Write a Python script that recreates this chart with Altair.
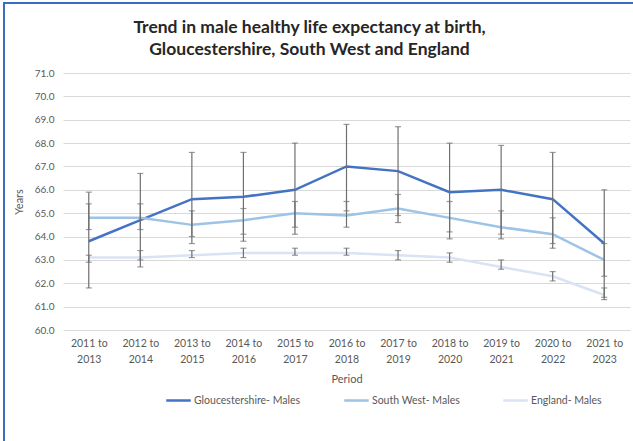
import altair as alt
import pandas as pd

# Three-year reporting periods (x axis)
periods = [
    "2011 to 2013", "2012 to 2014", "2013 to 2015", "2014 to 2016",
    "2015 to 2017", "2016 to 2018", "2017 to 2019", "2018 to 2020",
    "2019 to 2021", "2020 to 2022", "2021 to 2023",
]

series_names = ["Gloucestershire- Males", "South West- Males", "England- Males"]
series_colors = ["#4472c4", "#9dc3e6", "#dae3f3"]

# Healthy life expectancy (years) with 95% confidence limits
glos = [63.8, 64.7, 65.6, 65.7, 66.0, 67.0, 66.8, 65.9, 66.0, 65.6, 63.7]
glos_lo = [61.8, 62.7, 63.7, 63.8, 64.1, 65.1, 64.9, 63.9, 64.1, 63.7, 61.4]
glos_hi = [65.9, 66.7, 67.6, 67.6, 68.0, 68.8, 68.7, 68.0, 67.9, 67.6, 66.0]

sw = [64.8, 64.8, 64.5, 64.7, 65.0, 64.9, 65.2, 64.8, 64.4, 64.1, 63.0]
sw_lo = [64.3, 64.3, 64.0, 64.1, 64.4, 64.4, 64.6, 64.2, 63.9, 63.5, 62.3]
sw_hi = [65.4, 65.4, 65.1, 65.2, 65.5, 65.5, 65.8, 65.5, 65.1, 64.8, 63.7]

eng = [63.1, 63.1, 63.2, 63.3, 63.3, 63.3, 63.2, 63.1, 62.7, 62.3, 61.5]
eng_lo = [62.9, 63.0, 63.1, 63.1, 63.2, 63.2, 63.0, 62.9, 62.6, 62.1, 61.3]
eng_hi = [63.2, 63.4, 63.4, 63.5, 63.5, 63.5, 63.4, 63.3, 63.0, 62.5, 61.8]

y_ticks = [60, 61, 62, 63, 64, 65, 66, 67, 68, 69, 70, 71]

rows = []
for name, vals, los, his in zip(
    series_names, [glos, sw, eng], [glos_lo, sw_lo, eng_lo], [glos_hi, sw_hi, eng_hi]
):
    for p, v, lo, hi in zip(periods, vals, los, his):
        rows.append({"period": p, "series": name, "value": v, "lo": lo, "hi": hi})
df = pd.DataFrame(rows)

FONT = "Lato"
GREY = "#595959"

x_axis = alt.Axis(
    labelAngle=0,
    labelExpr="[slice(datum.label, 0, 7), slice(datum.label, 8)]",
    labelLineHeight=16,
    labelPadding=8,
    labelFontSize=10.5,
    labelColor=GREY,
    ticks=False,
    domain=False,
    grid=False,
    titleFontSize=11,
    titleFontWeight="normal",
    titleColor=GREY,
    titlePadding=9,
)
x_scale = alt.Scale(type="point", padding=0.5)
x_enc = alt.X("period:N", sort=periods, title="Period", scale=x_scale, axis=x_axis)

y_scale = alt.Scale(domain=[60, 71], nice=False, zero=False)
y_axis = alt.Axis(
    values=y_ticks,
    format=".1f",
    grid=True,
    gridColor="#d9d9d9",
    domain=False,
    ticks=False,
    labelPadding=9,
    labelFontSize=10,
    labelColor=GREY,
    labelOverlap=False,
    titleFontSize=11,
    titleFontWeight="normal",
    titleColor=GREY,
    titlePadding=10,
)


def y_enc(field):
    return alt.Y(field, scale=y_scale, axis=y_axis, title="Years")


color_enc = alt.Color(
    "series:N",
    sort=series_names,
    scale=alt.Scale(domain=series_names, range=series_colors),
    legend=alt.Legend(
        title=None,
        orient="none",
        legendX=102,
        legendY=314,
        direction="horizontal",
        symbolType="stroke",
        symbolSize=600,
        symbolStrokeWidth=2.5,
        labelFontSize=10.5,
        labelColor=GREY,
        labelOffset=2,
        columnPadding=38,
    ),
)

base = alt.Chart(df)

lines = base.mark_line(strokeWidth=2.5).encode(
    x=x_enc,
    y=y_enc("value:Q"),
    color=color_enc,
    order=alt.Order("series:N"),
)

ERR = "#6f6f6f"

bars = base.mark_rule(color=ERR, strokeWidth=1.2).encode(
    x=x_enc,
    y=y_enc("lo:Q"),
    y2="hi:Q",
)
caps_hi = base.mark_tick(color=ERR, size=6, thickness=1.2).encode(
    x=x_enc,
    y=y_enc("hi:Q"),
)
caps_lo = base.mark_tick(color=ERR, size=6, thickness=1.2).encode(
    x=x_enc,
    y=y_enc("lo:Q"),
)

# blue outline along the top and left of the canvas
frame = alt.Chart(pd.DataFrame({"f": [0]})).mark_rect(
    fill=None, stroke="#3c6ebf", strokeWidth=2
).encode(
    x=alt.value(-59), x2=alt.value(700), y=alt.value(-70), y2=alt.value(500)
)

chart = (
    alt.layer(lines, bars, caps_hi, caps_lo, frame)
    .properties(
        width=567,
        height=257,
        autosize=alt.AutoSizeParams(type="none"),
        padding={"left": 63, "top": 73, "right": 3, "bottom": 111},
        title=alt.TitleParams(
            text=[
                "Trend in male healthy life expectancy at birth,",
                "Gloucestershire, South West and England",
            ],
            fontSize=17.5,
            fontWeight="bold",
            font=FONT,
            color="#262626",
            lineHeight=22,
            anchor="middle",
            dx=-37,
            dy=70,
            offset=14,
        ),
    )
    .configure(font=FONT, background="white")
    .configure_view(stroke=None)
    .configure_axis(labelFont=FONT, titleFont=FONT)
    .configure_legend(labelFont=FONT)
)

chart.save("out.html", embed_options={"renderer": "svg", "actions": False})
